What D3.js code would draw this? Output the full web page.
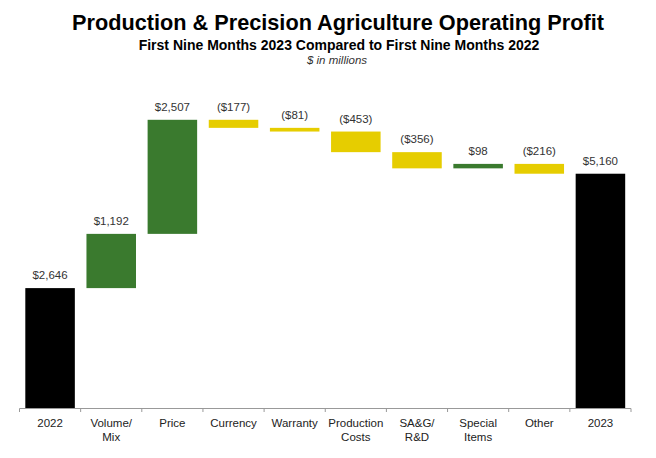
<!DOCTYPE html>
<html><head><meta charset="utf-8">
<script src="https://cdn.jsdelivr.net/npm/d3@7/dist/d3.min.js"></script>
<style>
html,body{margin:0;padding:0;background:#fff;}
svg{display:block;font-family:"Liberation Sans",Arial,sans-serif;}
</style></head>
<body>
<svg id="chart" width="656" height="458"></svg>
<script>
const categories = ["2022","Volume/\nMix","Price","Currency","Warranty","Production\nCosts","SA&G/\nR&D","Special\nItems","Other","2023"];
const values = [2646, 1192, 2507, -177, -81, -453, -356, 98, -216, 5160];
const kinds = ["total","delta","delta","delta","delta","delta","delta","delta","delta","total"];
const yDomain = [0, 7000];

const svg = d3.select("#chart");
const colors = {total:"#000000", up:"#3a7a2e", down:"#e6cd00"};

// build waterfall segments
let run = 0;
const segs = values.map((v,i)=>{
  let lo, hi, c;
  if (kinds[i]==="total"){ lo=0; hi=v; run=v; c=colors.total; }
  else { const s=run; run=run+v; lo=Math.min(s,run); hi=Math.max(s,run); c = v>=0?colors.up:colors.down; }
  return {cat:categories[i], v, lo, hi, c};
});

const x = d3.scaleBand().domain(categories).range([19.5, 631]).paddingInner(0.19).paddingOuter(0.095);
const y = d3.scaleLinear().domain(yDomain).range([408.5, 90]);

// titles
svg.append("text").attr("x",338).attr("y",30).attr("text-anchor","middle")
  .attr("font-size",21.7).attr("font-weight","bold").attr("fill","#000")
  .text("Production & Precision Agriculture Operating Profit");
svg.append("text").attr("x",339).attr("y",50).attr("text-anchor","middle")
  .attr("font-size",14).attr("font-weight","bold").attr("fill","#000")
  .text("First Nine Months 2023 Compared to First Nine Months 2022");
svg.append("text").attr("x",337).attr("y",64).attr("text-anchor","middle")
  .attr("font-size",11.5).attr("font-style","italic").attr("fill","#333")
  .text("$ in millions");

// bars
svg.append("g").selectAll("rect").data(segs).join("rect")
  .attr("x",d=>x(d.cat)).attr("width",x.bandwidth())
  .attr("y",d=>y(d.hi)).attr("height",d=>Math.max(1,y(d.lo)-y(d.hi)))
  .attr("fill",d=>d.c);

// value labels
const fmt = d3.format(",");
svg.append("g").selectAll("text").data(segs).join("text")
  .attr("x",d=>x(d.cat)+x.bandwidth()/2)
  .attr("y",d=>y(d.hi)-9)
  .attr("text-anchor","middle").attr("font-size",11.5).attr("fill","#333")
  .text(d=> d.v<0 ? "($"+fmt(-d.v)+")" : "$"+fmt(d.v));

// x axis
const step = x.step();
const axis = svg.append("g");
axis.append("line").attr("x1",19.5).attr("x2",631).attr("y1",408.5).attr("y2",408.5)
  .attr("stroke","#999").attr("stroke-width",1);
const bounds = categories.map(c=>x(c) - (step - x.bandwidth())/2).concat([631]);
axis.selectAll("line.t").data(bounds).join("line").attr("class","t")
  .attr("x1",d=>d).attr("x2",d=>d).attr("y1",408.5).attr("y2",412)
  .attr("stroke","#999");
const lbl = axis.selectAll("text").data(categories).join("text")
  .attr("x",d=>x(d)+x.bandwidth()/2).attr("y",427)
  .attr("text-anchor","middle").attr("font-size",11.5).attr("fill","#222");
lbl.each(function(d){
  const t=d3.select(this);
  d.split("\n").forEach((s,i)=>{
    t.append("tspan").attr("x",x(d)+x.bandwidth()/2).attr("dy",i===0?0:14).text(s);
  });
});
</script>
</body></html>
